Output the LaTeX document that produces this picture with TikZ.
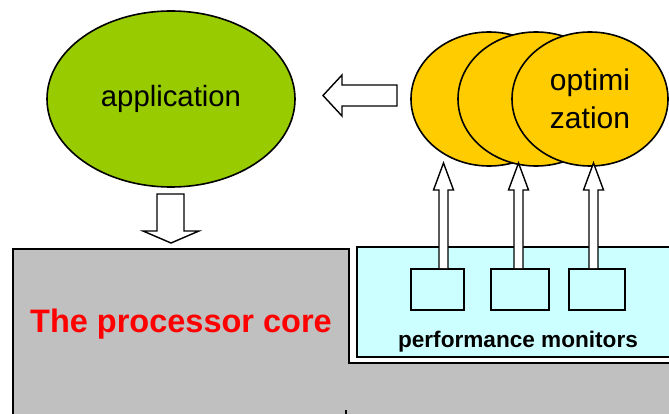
\documentclass[tikz,border=0pt]{standalone}
\usepackage{fontspec}
\setmainfont{Liberation Sans}
\usetikzlibrary{shapes.geometric}
\definecolor{appgreen}{HTML}{99CC00}
\definecolor{optyellow}{HTML}{FFCC00}
\definecolor{coregray}{HTML}{C0C0C0}
\definecolor{moncyan}{HTML}{CCFFFF}
\begin{document}
\begin{tikzpicture}[x=1pt,y=-1pt,
  outl/.style={draw=black,line width=1.6pt},
  blobnode/.style={ellipse,outl,inner sep=0pt},
  blockarrow/.style={draw=black,line width=1.4pt,fill=white,line join=miter},
  monbox/.style={rectangle,outl,fill=moncyan,inner sep=0pt}]
\useasboundingbox (0,0) rectangle (669,414);
\fill[white] (0,0) rectangle (669,414);
% processor core
\path[outl,fill=coregray] (13,430) -- (13,249) -- (349,249) -- (349,363) -- (680,363) -- (680,430) -- cycle;
\draw[line width=1.2pt] (346,410) -- (346,416);
\node[anchor=base,text=red,font=\bfseries\fontsize{32.5}{36}\selectfont] (core) at (181,332) {The processor core};
% performance monitors area
\node[monbox,minimum width=330,minimum height=110] (perf) at (522,302) {};
\node[anchor=base,font=\bfseries\fontsize{22.6}{26}\selectfont] (perflabel) at (518,347) {performance monitors};
\node[monbox,minimum width=53,minimum height=41] (m1) at (437.5,289.5) {};
\node[monbox,minimum width=58,minimum height=41] (m2) at (520,289.5) {};
\node[monbox,minimum width=56,minimum height=41] (m3) at (597,289.5) {};
% application
\node[blobnode,fill=appgreen,minimum width=248,minimum height=176,font=\fontsize{29.3}{32}\selectfont] (app) at (171,99) {application};
% optimization ellipses
\node[blobnode,fill=optyellow,minimum width=156,minimum height=134] (o1) at (489,99) {};
\node[blobnode,fill=optyellow,minimum width=156,minimum height=134] (o2) at (536,99) {};
\node[blobnode,fill=optyellow,minimum width=156,minimum height=134,align=center,font=\fontsize{30}{38}\selectfont] (o3) at (590,99) {optimi\\zation};
% left block arrow (optimization -> application)
\draw[blockarrow] (397,85) -- (342,85) -- (342,75) -- (323,95.5) -- (342,116) -- (342,106) -- (397,106) -- cycle;
% down block arrow (application -> core)
\draw[blockarrow] (157,194) -- (184,194) -- (184,231) -- (199,231) -- (171,243) -- (143,231) -- (157,231) -- cycle;
% up arrows from monitors to optimization
\foreach \cx/\nm in {443.5/m1, 518.5/m2, 593.5/m3}{
  \draw[blockarrow] (\cx-4.5,268) -- (\cx-4.5,190) -- (\cx-10,190) -- (\cx,163) -- (\cx+10,190) -- (\cx+4.5,190) -- (\cx+4.5,268);
}
\end{tikzpicture}
\end{document}
